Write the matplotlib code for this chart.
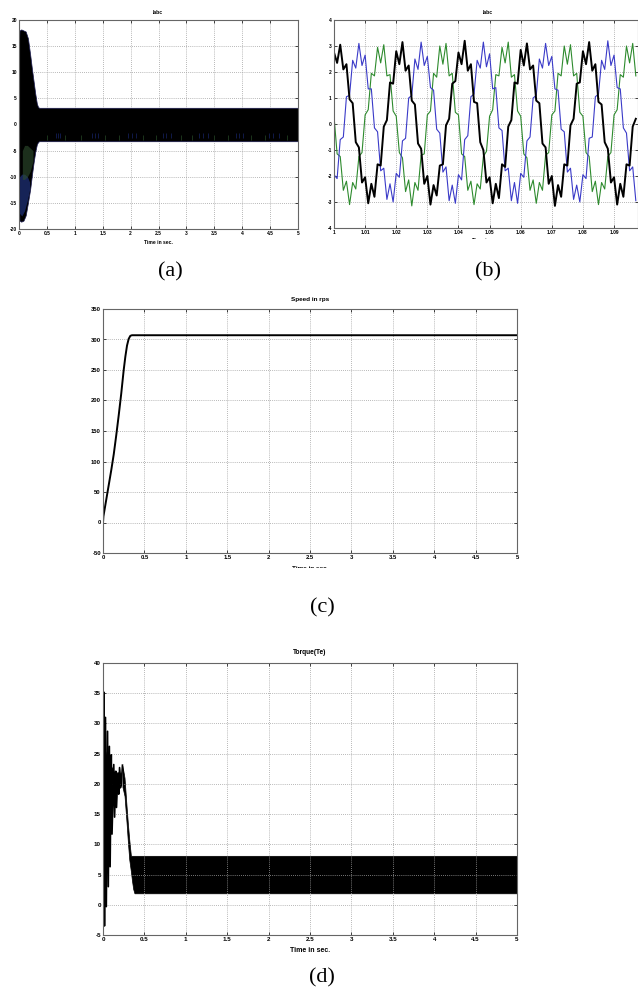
import numpy as np
import matplotlib
matplotlib.use('Agg')
import matplotlib.pyplot as plt
from matplotlib.ticker import FormatStrFormatter
from matplotlib.transforms import Bbox, TransformedBbox

## valores

# (a) corrente Iabc 0..5 s, envelope da faixa
ia_t = [0.0, 0.01, 0.04, 0.08, 0.12, 0.16, 0.20, 0.23, 0.26, 0.29, 0.32, 0.34, 0.36, 5.0]
ia_hi = [16.0, 18.0, 18.2, 18.0, 17.8, 16.5, 13.4, 10.8, 8.4, 6.0, 4.0, 3.4, 3.2, 3.2]
ia_lo = [-16.0, -18.4, -18.6, -18.4, -17.4, -15.0, -12.4, -9.8, -7.4, -5.3, -3.8, -3.4, -3.2, -3.2]
ia_blue_t = [0.01, 0.05, 0.10, 0.15, 0.19]
ia_blue_lo = [-17.0, -17.5, -16.5, -14.5, -12.5]
ia_blue_hi = [-10.0, -9.5, -9.5, -10.0, -11.0]
ia_green_t = [0.06, 0.10, 0.15, 0.20, 0.25]
ia_green_lo = [-10.5, -10.5, -10.0, -9.0, -7.0]
ia_green_hi = [-5.0, -4.0, -4.0, -4.5, -5.0]
speck_blue = [0.66, 0.70, 0.74, 1.30, 1.36, 1.42, 1.96, 2.02, 2.10, 2.58, 2.64, 2.72,
              3.22, 3.30, 3.38, 3.88, 3.94, 4.02, 4.48, 4.56, 4.66]
speck_green = [0.50, 0.82, 1.12, 1.55, 1.80, 2.22, 2.45, 2.90, 3.10, 3.50, 3.75, 4.15, 4.40, 4.80]

# (b) zoom 1.0 .. 1.097 s, uma amostra por ms
ib_t = np.linspace(1.0, 1.097, 98)
ib_black = [2.75, 2.35, 3.05, 2.10, 2.30, 0.95, 0.80, -0.70, -0.90, -2.25,
            -2.05, -3.05, -2.30, -2.80, -1.55, -1.60, -0.10, 0.15, 1.60, 1.55,
            2.80, 2.30, 3.15, 2.05, 2.25, 0.90, 0.75, -0.75, -0.95, -2.30,
            -2.00, -3.10, -2.35, -2.75, -1.60, -1.55, -0.05, 0.20, 1.55, 1.65,
            2.75, 2.30, 3.20, 2.05, 2.30, 0.85, 0.80, -0.70, -1.00, -2.25,
            -2.05, -3.05, -2.30, -2.85, -1.55, -1.65, -0.10, 0.15, 1.60, 1.55,
            2.85, 2.25, 3.10, 2.10, 2.25, 0.90, 0.80, -0.75, -0.90, -2.30,
            -2.00, -3.15, -2.35, -2.80, -1.55, -1.60, -0.05, 0.20, 1.55, 1.60,
            2.80, 2.30, 3.15, 2.05, 2.30, 0.85, 0.75, -0.70, -0.95, -2.25,
            -2.05, -3.10, -2.30, -2.80, -1.55, -1.60, -0.10, 0.20]
ib_blue = [-1.95, -2.10, -0.60, -0.50, 1.05, 1.10, 2.45, 2.15, 3.10, 2.25,
           2.65, 1.35, 1.35, -0.15, -0.30, -1.80, -1.70, -2.90, -2.30, -3.00,
           -1.90, -2.05, -0.65, -0.55, 1.00, 1.10, 2.50, 2.10, 3.15, 2.25,
           2.60, 1.40, 1.30, -0.20, -0.35, -1.85, -1.65, -2.95, -2.35, -3.05,
           -1.95, -2.15, -0.60, -0.45, 1.05, 1.15, 2.45, 2.15, 3.15, 2.20,
           2.70, 1.35, 1.40, -0.15, -0.25, -1.80, -1.70, -2.95, -2.25, -3.05,
           -1.90, -2.05, -0.65, -0.50, 1.00, 1.10, 2.50, 2.15, 3.10, 2.25,
           2.60, 1.35, 1.30, -0.20, -0.30, -1.85, -1.70, -2.90, -2.35, -3.00,
           -1.95, -2.10, -0.55, -0.50, 1.05, 1.15, 2.45, 2.10, 3.20, 2.25,
           2.65, 1.40, 1.35, -0.15, -0.35, -1.80, -1.65, -2.95]
ib_green = [0.30, -1.15, -1.25, -2.55, -2.20, -3.10, -2.25, -2.50, -1.25, -1.10,
            0.35, 0.55, 1.95, 1.85, 2.95, 2.35, 3.05, 1.85, 1.90, 0.50,
            0.30, -1.10, -1.30, -2.60, -2.15, -3.15, -2.25, -2.55, -1.20, -1.15,
            0.35, 0.50, 1.95, 1.80, 3.00, 2.30, 3.10, 1.85, 1.95, 0.45,
            0.35, -1.15, -1.25, -2.55, -2.20, -3.10, -2.30, -2.50, -1.25, -1.05,
            0.30, 0.55, 1.90, 1.85, 2.95, 2.35, 3.15, 1.80, 1.90, 0.50,
            0.30, -1.15, -1.30, -2.55, -2.15, -3.05, -2.25, -2.55, -1.20, -1.10,
            0.35, 0.50, 1.95, 1.85, 3.00, 2.30, 3.05, 1.85, 1.95, 0.45,
            0.30, -1.10, -1.25, -2.60, -2.20, -3.10, -2.25, -2.50, -1.25, -1.10,
            0.35, 0.55, 1.90, 1.80, 3.00, 2.35, 3.10, 1.85]

# (c) velocidade
speed_t = [0.0, 0.005, 0.015, 0.04, 0.07, 0.10, 0.13, 0.16, 0.19, 0.22, 0.25, 0.27,
           0.29, 0.31, 0.33, 0.35, 0.40, 5.0]
speed = [0, 10, 18, 38, 62, 86, 112, 143, 176, 211, 250, 272, 290, 301, 306, 307, 307, 307]

# (d) torque: transitorio + faixa
te_t = [0.0, 0.004, 0.009, 0.018, 0.030, 0.040, 0.055, 0.064, 0.077, 0.086, 0.100,
        0.109, 0.130, 0.140, 0.155, 0.163, 0.180, 0.190, 0.200, 0.220, 0.235]
te = [0.0, 20.0, 35.2, -3.5, 31.0, -0.3, 28.7, 3.0, 26.2, 6.3, 24.8,
      11.7, 23.2, 14.5, 22.1, 16.1, 21.8, 18.3, 22.7, 19.7, 23.1]
te_core_t = [0.005, 0.03, 0.06, 0.10, 0.14, 0.18, 0.22]
te_core_lo = [17.0, 17.0, 17.5, 18.0, 18.5, 19.0, 19.5]
te_core_hi = [27.0, 25.5, 24.0, 23.0, 22.0, 21.5, 22.0]
te_band_t = [0.235, 0.26, 0.285, 0.30, 0.317, 0.337, 0.35, 0.365, 0.38, 5.0]
te_hi = [23.0, 21.0, 16.2, 13.5, 10.8, 8.1, 8.1, 8.1, 8.1, 8.1]
te_lo = [19.5, 18.0, 13.5, 10.5, 7.5, 5.5, 4.0, 2.6, 1.9, 1.9]

W, H = 638.0, 990.0
plt.rcParams['font.family'] = ['Liberation Sans', 'DejaVu Sans']
plt.rcParams['font.weight'] = 'bold'

fig = plt.figure(figsize=(6.38, 9.90), dpi=100)


def eixo(l, t, r, b):
    return fig.add_axes([l / W, 1 - b / H, (r - l) / W, (b - t) / H])


def estilo(ax, fs):
    ax.grid(True, linestyle=(0, (1, 1.5)), color='#a0a0a0', linewidth=0.6)
    ax.tick_params(direction='in', length=2, width=0.5, labelsize=fs, pad=1.5,
                   top=True, right=True)
    ax.xaxis.set_major_formatter(FormatStrFormatter('%g'))
    ax.yaxis.set_major_formatter(FormatStrFormatter('%g'))
    for s in ax.spines.values():
        s.set_linewidth(0.8)
        s.set_color('#666666')


def texto(x, y, s, fs, clip_y=None, **kw):
    t = fig.text(x / W, 1 - y / H, s, ha='center', va='center', fontsize=fs, **kw)
    if clip_y is not None:
        box = Bbox([[0, 1 - clip_y / H], [1, 1]])
        t.set_clip_box(TransformedBbox(box, fig.transFigure))
        t.set_clip_on(True)
    return t


# (a)
ax1 = eixo(19, 20, 298, 229)
ax1.fill_between(ia_t, ia_lo, ia_hi, color='black', edgecolor='#1a1a50', lw=0.5, zorder=2)
ax1.fill_between(ia_blue_t, ia_blue_lo, ia_blue_hi, color='#1c2c6e', alpha=0.8, lw=0, zorder=3)
ax1.fill_between(ia_green_t, ia_green_lo, ia_green_hi, color='#2f4f2f', alpha=0.6, lw=0, zorder=3)
ax1.vlines(speck_blue, -2.6, -1.6, color='#1c2c7e', lw=0.5, alpha=0.8, zorder=3)
ax1.vlines(speck_green, -3.0, -2.0, color='#2f5a2f', lw=0.5, alpha=0.8, zorder=3)
ax1.set_xlim(0, 5)
ax1.set_ylim(-20, 20)
ax1.set_xticks(np.arange(0, 5.01, 0.5))
ax1.set_yticks(np.arange(-20, 21, 5))
estilo(ax1, 3.5)
texto(158, 13, 'Iabc', 3.6)
texto(158, 242, 'Time in sec.', 3.6)

# (b)
ax2 = eixo(334, 20, 638, 228)
ax2.plot(ib_t, ib_green, color='#2e8b2e', lw=0.8)
ax2.plot(ib_t, ib_blue, color='#3a3ac8', lw=0.8)
ax2.plot(ib_t, ib_black, color='black', lw=1.4)
ax2.set_xlim(1.0, 1.0977)
ax2.set_ylim(-4, 4)
ax2.set_xticks(np.arange(1.0, 1.0951, 0.01))
ax2.set_yticks(np.arange(-4, 5, 1))
estilo(ax2, 3.5)
texto(488, 13, 'Iabc', 3.6)
texto(486, 240, 'Time in sec.', 3.6, clip_y=238.5)

# (c)
ax3 = eixo(103, 309, 517, 553)
ax3.plot(speed_t, speed, color='black', lw=1.4)
ax3.set_xlim(0, 5)
ax3.set_ylim(-50, 350)
ax3.set_xticks(np.arange(0, 5.01, 0.5))
ax3.set_yticks(np.arange(-50, 351, 50))
estilo(ax3, 4.2)
texto(310, 300, 'Speed in rps', 4.6)
texto(310, 568, 'Time in sec.', 4.6, clip_y=567.5)

# (d)
ax4 = eixo(103, 663, 517, 935)
ax4.fill_between(te_core_t, te_core_lo, te_core_hi, color='black', lw=0)
ax4.plot(te_t, te, color='black', lw=1.2)
ax4.fill_between(te_band_t, te_lo, te_hi, color='black', lw=0.5)
ax4.set_xlim(0, 5)
ax4.set_ylim(-5, 40)
ax4.set_xticks(np.arange(0, 5.01, 0.5))
ax4.set_yticks(np.arange(-5, 41, 5))
estilo(ax4, 4.5)
texto(310, 653, 'Torque(Te)', 4.8)
texto(310, 950, 'Time in sec.', 5.0)

# legendas (a)..(d)
for lx, ly, s in [(170, 272, '(a)'), (488, 272, '(b)'), (322, 608, '(c)'), (322, 978, '(d)')]:
    texto(lx, ly, s, 16, family='Liberation Serif', fontweight='normal')

fig.savefig('out.png', dpi=100)
